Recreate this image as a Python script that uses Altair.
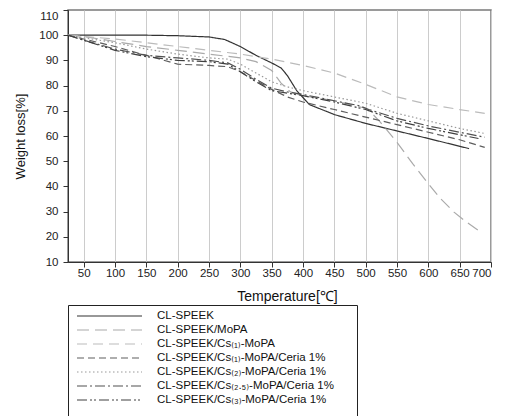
import altair as alt
import pandas as pd

series_names = [
    "CL-SPEEK",
    "CL-SPEEK/MoPA",
    "CL-SPEEK/Cs₍₁₎-MoPA",
    "CL-SPEEK/Cs₍₁₎-MoPA/Ceria 1%",
    "CL-SPEEK/Cs₍₂₎-MoPA/Ceria 1%",
    "CL-SPEEK/Cs₍₂.₅₎-MoPA/Ceria 1%",
    "CL-SPEEK/Cs₍₃₎-MoPA/Ceria 1%",
]

# CL-SPEEK
t0 = [25, 100, 150, 200, 250, 275, 300, 325, 350, 365, 375, 390, 410, 450, 500, 550, 600, 665]
w0 = [100, 100, 100, 99.8, 99.3, 98.3, 95.5, 92, 89, 87, 84, 78, 72.5, 68.5, 65, 62, 59, 55]
# CL-SPEEK/MoPA
t1 = [25, 50, 100, 150, 200, 250, 300, 325, 350, 365, 380, 400, 450, 500, 510, 523, 550, 575, 598, 620, 641, 660, 683]
w1 = [100, 99.5, 97.5, 95.5, 94, 92.5, 91, 89.5, 86, 81, 77.5, 76, 74, 71, 69, 65.6, 57.5, 49, 41.7, 35, 29.8, 26, 22]
# CL-SPEEK/Cs(1)-MoPA
t2 = [25, 50, 100, 150, 200, 250, 300, 325, 350, 400, 450, 500, 550, 600, 650, 690]
w2 = [100, 99.5, 98.5, 97, 95.5, 94, 92.5, 91.5, 90.5, 88, 85, 80.5, 75.5, 72.5, 70.5, 69]
# CL-SPEEK/Cs(1)-MoPA/Ceria 1%
t3 = [25, 50, 100, 150, 200, 250, 280, 300, 325, 350, 375, 400, 450, 500, 550, 600, 650, 690]
w3 = [100, 98.5, 95.5, 92, 88.5, 88, 87.5, 85.5, 82, 78.5, 75.5, 73.5, 70.5, 67.5, 64.5, 61.5, 58.5, 55.5]
# CL-SPEEK/Cs(2)-MoPA/Ceria 1%
t4 = [25, 50, 100, 150, 200, 250, 280, 300, 325, 350, 375, 400, 450, 500, 550, 600, 650, 690]
w4 = [100, 99, 97, 94.5, 92.5, 91, 90.5, 88.5, 85, 81.5, 79.5, 78, 75.5, 73, 69, 66, 63, 61]
# CL-SPEEK/Cs(2.5)-MoPA/Ceria 1%
t5 = [25, 50, 100, 150, 200, 250, 280, 300, 325, 350, 375, 400, 450, 490, 505, 550, 600, 650, 690]
w5 = [100, 98, 94.5, 92, 91, 90, 89, 86.5, 82.5, 79, 77.5, 76.5, 74, 72, 70.5, 67, 64, 61.5, 59.5]
# CL-SPEEK/Cs(3)-MoPA/Ceria 1%
t6 = [25, 50, 100, 150, 200, 250, 280, 300, 325, 350, 375, 400, 450, 500, 550, 600, 650, 680]
w6 = [100, 98, 94, 91.5, 90, 89.5, 88.5, 85.5, 81.5, 78, 77, 76, 73.5, 70.5, 66, 63, 60.5, 59]

temps = [t0, t1, t2, t3, t4, t5, t6]
weights = [w0, w1, w2, w3, w4, w5, w6]

x_ticks = [50, 100, 150, 200, 250, 300, 350, 400, 450, 500, 550, 600, 650, 700]
y_ticks = [10, 20, 30, 40, 50, 60, 70, 80, 90, 100, 110]

colors = ["#333333", "#aaaaaa", "#bbbbbb", "#5e5e5e", "#999999", "#505050", "#404040"]
dashes = [[1, 0], [12, 6], [10, 6], [7, 4], [1.5, 2.5], [10, 3, 2, 3], [10, 3, 2, 2, 2, 3]]

rows = []
for name, T, W in zip(series_names, temps, weights):
    for t, w in zip(T, W):
        rows.append({"series": name, "T": t, "W": w})
df = pd.DataFrame(rows)

color_scale = alt.Scale(domain=series_names, range=colors)
dash_scale = alt.Scale(domain=series_names, range=dashes)

main = alt.Chart(df).mark_line(strokeWidth=1.2, clip=True).encode(
    x=alt.X("T:Q",
            scale=alt.Scale(domain=[25, 700], nice=False, zero=False),
            axis=alt.Axis(values=x_ticks, title="Temperature[℃]", grid=True,
                          gridColor="#cccccc", gridWidth=1, tickSize=5,
                          labelPadding=0, titlePadding=11, titleFontSize=14,
                          titleFontWeight="normal", labelFontSize=11.5,
                          titleX=219)),
    y=alt.Y("W:Q",
            scale=alt.Scale(domain=[10, 110], nice=False, zero=False),
            axis=alt.Axis(values=y_ticks, title="Weight loss[%]", grid=False,
                          tickSize=5, labelPadding=5, titlePadding=11,
                          titleFontSize=13, titleFontWeight="normal",
                          labelFontSize=11.5,
                          labelBaseline=alt.expr("datum.value >= 110 ? 'top' : 'middle'"))),
    color=alt.Color("series:N", scale=color_scale, legend=None),
    strokeDash=alt.StrokeDash("series:N", scale=dash_scale, legend=None),
    order="T:Q",
).properties(width=423, height=252,
             view=alt.ViewBackground(stroke="#7a7a7a", strokeWidth=1.5))

legend_df = pd.DataFrame({"series": series_names, "idx": list(range(len(series_names)))})
ly = alt.Y("idx:Q", scale=alt.Scale(domain=[-0.786, 8.214], reverse=True, nice=False, zero=False), axis=None)

leg_lines = alt.Chart(legend_df).mark_rule(strokeWidth=1.2).encode(
    x=alt.value(9), x2=alt.value(74), y=ly,
    color=alt.Color("series:N", scale=color_scale, legend=None),
    strokeDash=alt.StrokeDash("series:N", scale=dash_scale, legend=None),
)
leg_text = alt.Chart(legend_df).mark_text(align="left", baseline="middle", fontSize=11.5,
                                          color="#111111", font="Liberation Sans, DejaVu Sans").encode(
    x=alt.value(89), y=ly, text="series:N",
)
legend = alt.layer(leg_lines, leg_text).properties(
    width=289, height=126,
    view=alt.ViewBackground(stroke="#222222", strokeWidth=1))

chart = alt.vconcat(main, legend, spacing=-5).resolve_scale(
    x="independent", y="independent"
).properties(
    padding={"left": 6, "top": 0, "right": 0, "bottom": 0}
).configure(font="Liberation Sans").configure_axis(
    labelColor="#222222", titleColor="#111111", domainColor="#333333",
    tickColor="#333333", labelFont="Liberation Sans", titleFont="Liberation Sans",
)

chart.save("out.html", embed_options={"renderer": "svg", "actions": False})
